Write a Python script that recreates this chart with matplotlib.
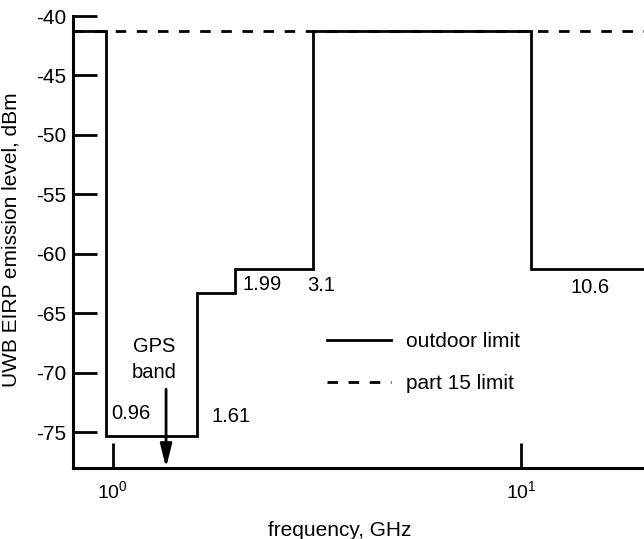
import matplotlib

matplotlib.use("Agg")
import matplotlib.pyplot as plt
from matplotlib.ticker import FixedLocator, NullLocator, LogFormatterSciNotation

# 户外 UWB 限值（台阶边界 GHz / 电平 dBm）
edges = [0.8, 0.96, 1.61, 1.99, 3.1, 10.6, 20.0]
outdoor_levels = [-41.3, -75.3, -63.3, -61.3, -41.3, -61.3]
part15_level = -41.3

edge_labels = ["0.96", "1.61", "1.99", "3.1", "10.6"]
label_x = [0.993, 1.74, 2.08, 3.0, 13.2]
label_y = [-73.4, -73.7, -62.6, -62.7, -62.8]

gps_x = 1.35
gps_text_pos = (1.265, -68.9)
y_ticks = [-75, -70, -65, -60, -55, -50, -45, -40]

plt.rcParams["font.family"] = ["Liberation Sans", "DejaVu Sans"]
plt.rcParams["mathtext.default"] = "regular"
plt.rcParams["axes.unicode_minus"] = False

fig = plt.figure(figsize=(6.44, 5.39), dpi=100)
ax = fig.add_axes([0.1138, 0.1323, 1.0 - 0.1138, 0.9703 - 0.1323])

ax.stairs(outdoor_levels, edges, baseline=None, color="black", lw=2.0,
          label="outdoor limit")
ax.plot([edges[0], edges[-1]], [part15_level, part15_level], color="black",
        lw=2.0, dashes=(3.8, 3.8), label="part 15 limit")

ax.set_xscale("log")
ax.set_xlim(edges[0], edges[-1])
ax.set_ylim(-78, -40)

for txt, x, y in zip(edge_labels, label_x, label_y):
    ax.text(x, y, txt, fontsize=14.5, ha="left", va="center")

ax.text(gps_text_pos[0], gps_text_pos[1], "GPS\nband", fontsize=14.5,
        ha="center", va="center", linespacing=1.45)
ax.annotate("", xy=(gps_x, -78), xytext=(gps_x, -71.4),
            arrowprops=dict(arrowstyle="-|>,head_length=1.4,head_width=0.35",
                            lw=2.0, color="black", shrinkA=0, shrinkB=0))

ax.spines["top"].set_visible(False)
ax.spines["right"].set_visible(False)
for s in ("left", "bottom"):
    ax.spines[s].set_linewidth(2.2)

ax.xaxis.set_major_locator(FixedLocator([1, 10]))
ax.xaxis.set_major_formatter(LogFormatterSciNotation())
ax.xaxis.set_minor_locator(NullLocator())
ax.set_yticks(y_ticks)
ax.tick_params(axis="y", direction="in", length=17.5, width=2.0, labelsize=15, pad=5)
ax.tick_params(axis="x", direction="in", length=18, width=2.0, labelsize=14, pad=9)

ax.set_xlabel("frequency, GHz", fontsize=15)
ax.set_ylabel("UWB EIRP emission level, dBm", fontsize=15)
ax.xaxis.label.set_va("center")
ax.xaxis.set_label_coords(0.467, -0.138)
ax.yaxis.label.set_va("center")
ax.yaxis.set_label_coords(-0.109, 0.505)

ax.legend(frameon=False, loc="upper left", bbox_to_anchor=(0.444, 0.300),
          borderaxespad=0, borderpad=0, fontsize=15, handlelength=3.1,
          handletextpad=0.7, labelspacing=1.1)

fig.savefig("out.png", dpi=100)
